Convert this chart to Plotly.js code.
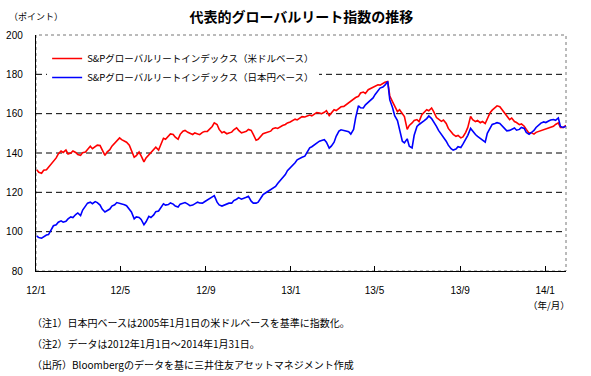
<!DOCTYPE html>
<html>
<head>
<meta charset="utf-8">
<script src="https://cdn.plot.ly/plotly-3.0.1.min.js"></script>
<style>html,body{margin:0;padding:0;background:#fff;}#chart{width:591px;height:376px;}</style>
</head>
<body>
<div id="chart"></div>
<script>
// ---- data (readings twice a week: Monday, Thursday) ----
var dates = [
'2012-01-02','2012-01-05','2012-01-09','2012-01-12','2012-01-16','2012-01-19','2012-01-23','2012-01-26','2012-01-30','2012-02-02',
'2012-02-06','2012-02-09','2012-02-13','2012-02-16','2012-02-20','2012-02-23','2012-02-27','2012-03-01','2012-03-05','2012-03-08',
'2012-03-12','2012-03-15','2012-03-19','2012-03-22','2012-03-26','2012-03-29','2012-04-02','2012-04-05','2012-04-09','2012-04-12',
'2012-04-16','2012-04-19','2012-04-23','2012-04-26','2012-04-30','2012-05-03','2012-05-07','2012-05-10','2012-05-14','2012-05-17',
'2012-05-21','2012-05-24','2012-05-28','2012-05-31','2012-06-04','2012-06-07','2012-06-11','2012-06-14','2012-06-18','2012-06-21',
'2012-06-25','2012-06-28','2012-07-02','2012-07-05','2012-07-09','2012-07-12','2012-07-16','2012-07-19','2012-07-23','2012-07-26',
'2012-07-30','2012-08-02','2012-08-06','2012-08-09','2012-08-13','2012-08-16','2012-08-20','2012-08-23','2012-08-27','2012-08-30',
'2012-09-03','2012-09-06','2012-09-10','2012-09-13','2012-09-17','2012-09-20','2012-09-24','2012-09-27','2012-10-01','2012-10-04',
'2012-10-08','2012-10-11','2012-10-15','2012-10-18','2012-10-22','2012-10-25','2012-10-29','2012-11-01','2012-11-05','2012-11-08',
'2012-11-12','2012-11-15','2012-11-19','2012-11-22','2012-11-26','2012-11-29','2012-12-03','2012-12-06','2012-12-10','2012-12-13',
'2012-12-17','2012-12-20','2012-12-24','2012-12-27','2012-12-31','2013-01-03','2013-01-07','2013-01-10','2013-01-14','2013-01-17',
'2013-01-21','2013-01-24','2013-01-28','2013-01-31','2013-02-04','2013-02-07','2013-02-11','2013-02-14','2013-02-18','2013-02-21',
'2013-02-25','2013-02-28','2013-03-04','2013-03-07','2013-03-11','2013-03-14','2013-03-18','2013-03-21','2013-03-25','2013-03-28',
'2013-04-01','2013-04-04','2013-04-08','2013-04-11','2013-04-15','2013-04-18','2013-04-22','2013-04-25','2013-04-29','2013-05-02',
'2013-05-06','2013-05-09','2013-05-13','2013-05-16','2013-05-20','2013-05-23','2013-05-27','2013-05-30','2013-06-03','2013-06-06',
'2013-06-10','2013-06-13','2013-06-17','2013-06-20','2013-06-24','2013-06-27','2013-07-01','2013-07-04','2013-07-08','2013-07-11',
'2013-07-15','2013-07-18','2013-07-22','2013-07-25','2013-07-29','2013-08-01','2013-08-05','2013-08-08','2013-08-12','2013-08-15',
'2013-08-19','2013-08-22','2013-08-26','2013-08-29','2013-09-02','2013-09-05','2013-09-09','2013-09-12','2013-09-16','2013-09-19',
'2013-09-23','2013-09-26','2013-09-30','2013-10-03','2013-10-07','2013-10-10','2013-10-14','2013-10-17','2013-10-21','2013-10-24',
'2013-10-28','2013-10-31','2013-11-04','2013-11-07','2013-11-11','2013-11-14','2013-11-18','2013-11-21','2013-11-25','2013-11-28',
'2013-12-02','2013-12-05','2013-12-09','2013-12-12','2013-12-16','2013-12-19','2013-12-23','2013-12-26','2013-12-30','2014-01-02',
'2014-01-06','2014-01-09','2014-01-13','2014-01-16','2014-01-20','2014-01-23',
'2014-01-27','2014-01-31'
];
var usdValues = [
131.5,130.2, 129.7,131.2, 131.5,132.8, 134.5,136, 137.5,139.5,
141,140.3, 141.5,139.5, 140,141, 140.3,139.2, 138.8,140.2,
140.5,141.8, 143.4,142.2, 143,144, 143.8,141.5, 138.8,140.5,
141.7,143.5, 145,146.3, 147.7,146.8, 146.2,145.5, 144,141,
137.8,138.6, 140.5,138.5, 135.5,137.5, 139,140.2, 141.5,143,
141.5,144.5, 147.5,147, 148.5,149.7, 149.4,148, 147,149.5,
151.1,151.5, 150.5,150, 149.4,150.2, 149.8,149.3, 150.5,150.9,
151,152, 153.5,155.3, 154.5,152, 150.3,150.8, 149.8,150.2,
150.6,151.8, 152.8,151.5, 150.3,150.6, 151,152, 151.5,149.5,
146.5,147, 148.5,149.8, 150.3,150.8, 151.1,152.3, 152.8,152.5,
153.5,154, 154.5,155.3, 155.8,156.6, 157.2,156.8, 157.8,158.5,
158.3,158.8, 159.3,158.9, 159.8,160.6, 160.3,160, 160.7,161.5,
159,160.5, 162,161.6, 162.9,163.5, 163.7,164.5, 165.5,166.5,
167.1,168.2, 168.8,170.5, 171,170.3, 172.2,172.8, 173.2,174.2,
174.7,174.5, 175.5,176, 176.4,169, 166,163.5, 161,162,
160,158.5, 152,154, 155.3,156.5, 157,156, 159.5,160.8,
162,161.5, 162.9,161, 158,157.2, 156.1,156.8, 155,152.5,
150.5,149.5, 148.5,148.9, 147.7,148.2, 150.5,153, 158.6,157,
156,156.5, 155.4,156, 155,157.5, 160.5,161.8, 163,164,
163.5,162, 160,158.5, 157,157.8, 156,155.5, 154.4,154.8,
153.6,152, 150,150.4, 149.6,150.5, 151,151.3, 151.9,152.4,
152.8,153.2, 153.6,154.5, 155.3,153,
153,154
];
var jpyValues = [
97.8,97, 96.7,97.5, 98.3,98.5, 101,103, 103.5,104.8,
105.5,104.8, 105.3,106.5, 107.5,107.2, 108.7,109.5, 108.2,111,
113,114.5, 115,114.2, 115.3,114.8, 113.5,111.5, 110,110.8,
111.5,113, 113.7,114.8, 114.5,114.2, 113.7,113.2, 111.5,110,
106.5,107.5, 107.2,106.2, 103.5,105, 107.8,107.2, 108.5,110.2,
110.5,112, 114.2,113.5, 113.8,114.6, 114,113, 112.5,114,
114.5,114.8, 114,113.2, 113.5,114.3, 115,114.6, 114.5,115.2,
116,116.8, 117.8,118.3, 115,113.6, 113,113.5, 113.8,114.5,
114.5,115.8, 116.5,117.3, 116.5,116.8, 117.5,118, 115.5,114.5,
114.5,115, 117.5,118.8, 119.8,120.5, 121.5,122, 123,124.5,
126,127.5, 129,131, 132.3,133.5, 135,136.5, 137.5,137.8,
138.4,140.5, 142.6,143.2, 144.3,145, 146,146.4, 146.8,145.5,
142.5,143.5, 145.5,148.5, 151.1,151.8, 151.5,151, 150.8,149.6,
152,158, 164,163, 162.9,164.5, 165.8,166.8, 168,169.8,
171.5,173, 173.5,174.5, 176.4,167, 163,159, 156.5,152,
146,145.2, 147.2,143.5, 142.6,149, 153.5,154.5, 155.4,156.3,
157.5,158.8, 157.5,156, 153.5,151.5, 149.5,148.2, 146,144,
142.2,141.5, 142,143.2, 142.8,144.5, 147,149, 152.5,151,
149.4,148.5, 147.5,146.8, 145.5,150, 153,154.5, 155,155.4,
155,154, 152.5,151.3, 151.5,152.2, 152.7,151.6, 152,153,
152.5,150.5, 149.5,150.3, 151.5,153, 154.5,155.2, 155.8,155.5,
156.3,156.8, 157,156.6, 157.8,153.5,
153,153.6
];
var seriesNames = ['S&Pグローバルリートインデックス（米ドルベース）','S&Pグローバルリートインデックス（日本円ベース）'];
var xTickVals = ['2012-01-01','2012-05-01','2012-09-01','2013-01-01','2013-05-01','2013-09-01','2014-01-01'];
var xTickText = ['12/1','12/5','12/9','13/1','13/5','13/9','14/1'];
var yTickVals = [80,100,120,140,160,180,200];
var titleText = '代表的グローバルリート指数の推移';
var notes = ['（注1）日本円ベースは2005年1月1日の米ドルベースを基準に指数化。','（注2）データは2012年1月1日～2014年1月31日。','（出所）Bloombergのデータを基に三井住友アセットマネジメント作成'];

// ---- chart ----
var jp = '"Noto Sans CJK JP", "Liberation Sans", sans-serif';
var num = '"Liberation Sans", Arial, sans-serif';
var traces = [
  {x: dates, y: usdValues, name: seriesNames[0], type: 'scatter', mode: 'lines', line: {color: '#FF0000', width: 1.6}},
  {x: dates, y: jpyValues, name: seriesNames[1], type: 'scatter', mode: 'lines', line: {color: '#0000FF', width: 1.6}}
];
var shapes = [{type: 'rect', xref: 'paper', yref: 'paper', x0: 0, x1: 1, y0: 0, y1: 1, line: {color: '#777', width: 1, dash: 'dot'}, layer: 'below'}];
yTickVals.forEach(function (v) {
  if (v > yTickVals[0] && v < yTickVals[yTickVals.length - 1]) {
    shapes.push({type: 'line', xref: 'paper', yref: 'y', x0: 0, x1: 1, y0: v, y1: v, line: {color: '#000', width: 1, dash: '6px,4px'}, layer: 'below'});
  }
});
var annotations = [
  {text: '（ポイント）', xref: 'paper', yref: 'paper', x: 0.0, y: 1.08, xanchor: 'center', yanchor: 'middle', showarrow: false, font: {family: jp, size: 9, color: '#000'}},
  {text: '（年/月）', xref: 'paper', yref: 'paper', x: 0.968, y: -0.145, xanchor: 'center', yanchor: 'middle', showarrow: false, font: {family: jp, size: 9.5, color: '#000'}}
];
var noteY = [322, 343, 364];
notes.forEach(function (t, i) {
  annotations.push({text: t, xref: 'paper', yref: 'paper', x: (30 - 36) / 530, y: (271 - noteY[i]) / 236, xanchor: 'left', yanchor: 'middle', showarrow: false, font: {family: jp, size: 10, color: '#000'}});
});
var layout = {
  width: 591, height: 376,
  margin: {l: 36, r: 25, t: 35, b: 105},
  paper_bgcolor: '#fff', plot_bgcolor: '#fff',
  title: {text: '<b>' + titleText + '</b>', x: 0.51, xanchor: 'center', y: 0.955, yanchor: 'middle', font: {family: jp, size: 14, color: '#000'}},
  showlegend: true,
  legend: {x: 0.021, y: 0.962, xanchor: 'left', yanchor: 'top', bgcolor: '#ffffff', borderwidth: 0, font: {family: jp, size: 9.5, color: '#000'}, itemwidth: 30, tracegroupgap: 0},
  xaxis: {type: 'date', range: ['2012-01-01', '2014-01-31'], tickmode: 'array', tickvals: xTickVals, ticktext: xTickText,
    ticks: 'inside', ticklen: 5, tickcolor: '#000', tickwidth: 1, showline: true, linecolor: '#000', linewidth: 1.2,
    showgrid: false, zeroline: false, ticklabelstandoff: 10, tickfont: {family: num, size: 10, color: '#000'}},
  yaxis: {range: [80, 200], tickmode: 'array', tickvals: yTickVals, ticks: '', showline: true, linecolor: '#000', linewidth: 1.2,
    showgrid: false, zeroline: false, ticklabelstandoff: 10, tickfont: {family: num, size: 10, color: '#000'}},
  shapes: shapes,
  annotations: annotations
};
Plotly.newPlot('chart', traces, layout, {displayModeBar: false, staticPlot: true});
</script>
</body>
</html>
